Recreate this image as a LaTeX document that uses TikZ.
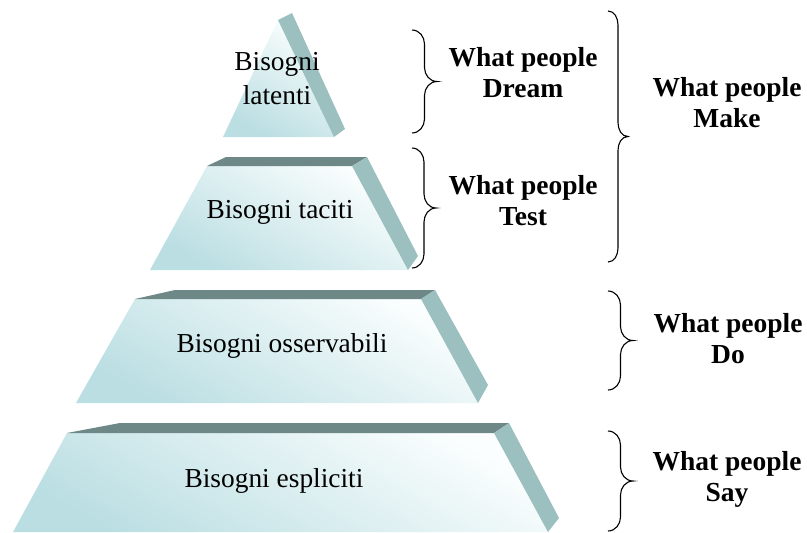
\documentclass[tikz,border=0pt]{standalone}
\usepackage{fontspec}
\setmainfont{Liberation Serif}
\definecolor{faceLo}{HTML}{BADEE2}
\definecolor{faceHi}{HTML}{FBFEFE}
\definecolor{sideC}{HTML}{9CBFBF}
\definecolor{topC}{HTML}{6E8787}
\tikzset{
  front/.style={shading=axis, top color=faceHi, bottom color=faceLo, shading angle=-30},
  sideface/.style={fill=sideC},
  topface/.style={fill=topC},
  level/.style={font=\fontsize{27.4}{34}\selectfont, align=center, inner sep=0pt},
  tag/.style={font=\fontsize{27.5}{31}\selectfont\bfseries, align=center, inner sep=0pt},
  bracket/.style={draw=black, line width=1.1pt},
}
% right-pointing curly brace: x, top, bottom, depth
\newcommand{\rbr}[4]{%
  \draw[bracket] (#1,#2) to[out=0,in=90] ({#1+#4},{#2+14})
    -- ({#1+#4},{(#2+#3)/2-14}) to[out=-90,in=180] ({#1+2*#4},{(#2+#3)/2})
    to[out=180,in=90] ({#1+#4},{(#2+#3)/2+14})
    -- ({#1+#4},{#3-14}) to[out=-90,in=0] (#1,#3);}
\begin{document}
\begin{tikzpicture}[x=1pt,y=-1pt]
\useasboundingbox (0,0) rectangle (807,533);

% apex level
\shade[front] (223,137) -- (278,20) -- (334,137) -- cycle;
\fill[sideface] (278,20) -- (292,13) -- (345,129) -- (334,137) -- cycle;
\node[level] (latenti) at (277,79) {Bisogni\\latenti};

% second level
\shade[front] (150,270) -- (207,166) -- (352,166) -- (408,270) -- cycle;
\fill[topface] (207,166) -- (226,157) -- (367,157) -- (352,166) -- cycle;
\fill[sideface] (352,166) -- (367,157) -- (418,256) -- (408,270) -- cycle;
\node[level] (taciti) at (280,212) {Bisogni taciti};

% third level
\shade[front] (76,403) -- (135,299) -- (421,299) -- (478,403) -- cycle;
\fill[topface] (135,299) -- (175,290) -- (435,290) -- (421,299) -- cycle;
\fill[sideface] (421,299) -- (435,290) -- (488,385) -- (478,403) -- cycle;
\node[level] (osservabili) at (282,346) {Bisogni osservabili};

% base level
\shade[front] (13,532) -- (67,433) -- (494,433) -- (548,532) -- cycle;
\fill[topface] (67,433) -- (120,423) -- (509,423) -- (494,433) -- cycle;
\fill[sideface] (494,433) -- (509,423) -- (559,518) -- (548,532) -- cycle;
\node[level] (espliciti) at (274,481) {Bisogni espliciti};

% braces
\rbr{412}{30}{133}{12.5}
\rbr{412}{148}{268}{12}
\rbr{608}{11}{262}{10}
\rbr{608}{291}{390}{12.5}
\rbr{608}{431}{531}{12.5}

% labels
\node[tag] (dream) at (523,73) {What people\\Dream};
\node[tag] (test) at (523,201) {What people\\Test};
\node[tag] (make) at (727,103) {What people\\Make};
\node[tag] (do) at (728,339) {What people\\Do};
\node[tag] (say) at (727,479) {What people\\Say};
\end{tikzpicture}
\end{document}
